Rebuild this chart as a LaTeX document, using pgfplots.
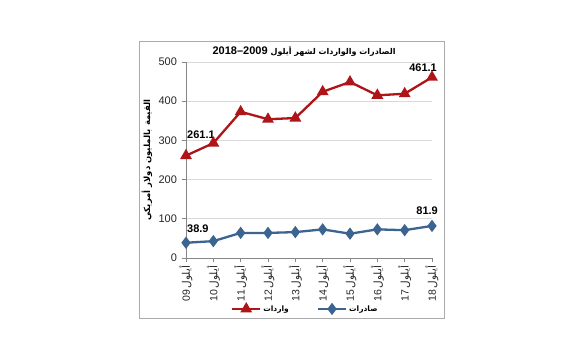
\documentclass[border=0pt]{standalone}
\usepackage{fontspec}
\usepackage{pgfplots}
\pgfplotsset{compat=1.18}
\setmainfont{Liberation Sans}
\newfontfamily\arabicfont[Script=Arabic]{DejaVu Sans}
\TeXXeTstate=1
\definecolor{impred}{RGB}{175,20,25}
\definecolor{expblue}{RGB}{60,100,145}
\definecolor{gridgray}{RGB}{217,217,217}
\definecolor{axgray}{RGB}{134,134,134}
\newcommand{\ayl}[1]{#1\,{\arabicfont\beginR أيلول\endR}}
\begin{document}
\begin{tikzpicture}
\path[fill=white] (0pt,0pt) rectangle (563pt,353pt);
\draw[axgray!70, line width=0.8pt] (139pt,35pt) rectangle (444pt,312pt);
\begin{axis}[
  at={(186pt,95pt)}, anchor=south west,
  scale only axis, width=246pt, height=196pt,
  xmin=0, xmax=9, ymin=0, ymax=500,
  xtick={0,...,9},
  xticklabels={\ayl{09},\ayl{10},\ayl{11},\ayl{12},\ayl{13},\ayl{14},\ayl{15},\ayl{16},\ayl{17},\ayl{18}},
  ytick={0,100,...,500},
  axis x line*=bottom, axis y line*=left,
  axis line style={axgray, line width=0.6pt},
  tick style={axgray, line width=0.6pt},
  tick align=outside, major tick length=4.5pt,
  ymajorgrids, grid style={gridgray, line width=0.6pt},
  /pgf/number format/assume math mode=true,
  tick label style={font=\fontsize{11}{13}\selectfont, text=black!85},
  xticklabel style={rotate=90, anchor=east, font=\fontsize{10.5}{12}\selectfont},
  yticklabel style={xshift=-1pt},
  clip=false,
  title={\bfseries 2018--2009 {\arabicfont\bfseries\fontsize{8}{10}\selectfont\beginR الصادرات والواردات لشهر أيلول\endR}},
  title style={at={(axis description cs:0.48,1)}, anchor=center, yshift=4pt, font=\fontsize{11}{13}\selectfont},
  ylabel={\arabicfont\bfseries\beginR القيمة بالمليون دولار أمريكي\endR},
  ylabel style={at={(axis description cs:-0.159,0.5)}, rotate=0, anchor=center, font=\fontsize{8.5}{10}\selectfont},
  legend columns=2,
  legend style={at={(axis description cs:0.485,-0.26)}, anchor=center, draw=none, fill=none,
    font=\arabicfont\bfseries\fontsize{7.5}{9}\selectfont,
    /tikz/every even column/.append style={column sep=26pt}},
  legend image code/.code={\draw[mark repeat=2,mark phase=2,#1] plot coordinates {(0pt,0pt) (14pt,0pt) (28pt,0pt)};},
]
\addplot[impred, line width=2.3pt, mark=triangle*, mark size=4.6pt, mark options={solid}] coordinates {
(0,261.1) (1,293) (2,373) (3,354) (4,357) (5,424) (6,449) (7,415) (8,419) (9,461.1)};
\addlegendentry{\beginR واردات\endR}
\addplot[expblue, line width=2.3pt, mark=diamond*, mark size=4.3pt, mark options={solid}] coordinates {
(0,38.9) (1,43) (2,64) (3,64) (4,66) (5,73) (6,62) (7,73) (8,71) (9,81.9)};
\addlegendentry{\beginR صادرات\endR}
\node[anchor=south west, font=\bfseries\fontsize{11}{13}\selectfont, inner sep=0pt] at (axis cs:0,261.1) [yshift=17pt, xshift=1pt] {261.1};
\node[anchor=south east, font=\bfseries\fontsize{11}{13}\selectfont, inner sep=0pt] at (axis cs:9,461.1) [yshift=5pt, xshift=5pt] {461.1};
\node[anchor=south west, font=\bfseries\fontsize{11}{13}\selectfont, inner sep=0pt] at (axis cs:0,38.9) [yshift=10pt, xshift=1pt] {38.9};
\node[anchor=south east, font=\bfseries\fontsize{11}{13}\selectfont, inner sep=0pt] at (axis cs:9,81.9) [yshift=11pt, xshift=6pt] {81.9};
\end{axis}
\end{tikzpicture}
\end{document}
